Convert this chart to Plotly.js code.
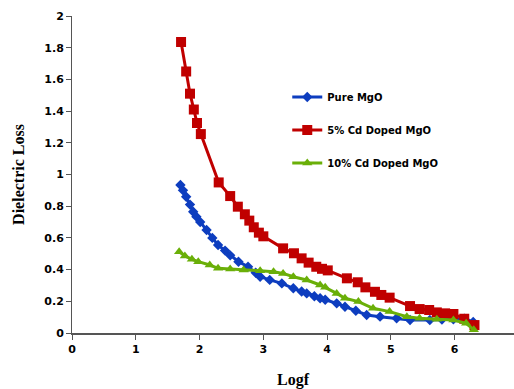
<!DOCTYPE html>
<html>
<head>
<meta charset="utf-8">
<script src="https://cdn.plot.ly/plotly-3.0.1.min.js"></script>
<style>html,body{margin:0;padding:0;background:#fff;}#chart{width:514px;height:389px;}</style>
</head>
<body>
<div id="chart"></div>
<script>
const seriesNames = ["Pure MgO", "5% Cd Doped MgO", "10% Cd Doped MgO"];

const pureX = [1.70,1.74,1.79,1.85,1.90,1.95,2.01,2.11,2.20,2.29,2.40,2.48,2.61,2.76,2.88,2.95,3.10,3.29,3.47,3.60,3.68,3.80,3.89,3.97,4.15,4.28,4.45,4.62,4.83,5.09,5.30,5.61,5.80,5.98,6.15,6.29];
const pureY = [0.934,0.90,0.86,0.81,0.765,0.734,0.70,0.65,0.60,0.555,0.52,0.49,0.45,0.418,0.38,0.355,0.335,0.313,0.282,0.262,0.25,0.232,0.219,0.21,0.187,0.166,0.14,0.114,0.103,0.093,0.082,0.082,0.085,0.086,0.09,0.07];

const cd5X = [1.71,1.79,1.85,1.91,1.96,2.02,2.30,2.48,2.60,2.71,2.78,2.85,2.93,3.00,3.31,3.48,3.60,3.71,3.83,3.92,4.01,4.31,4.48,4.60,4.75,4.85,4.98,5.30,5.45,5.60,5.72,5.85,5.98,6.15,6.31];
const cd5Y = [1.836,1.65,1.51,1.41,1.325,1.255,0.95,0.864,0.797,0.749,0.709,0.667,0.633,0.61,0.534,0.503,0.471,0.444,0.418,0.405,0.395,0.345,0.32,0.288,0.26,0.24,0.223,0.17,0.151,0.145,0.13,0.124,0.12,0.09,0.05];

const cd10X = [1.68,1.77,1.88,1.98,2.16,2.29,2.48,2.69,2.95,3.16,3.31,3.47,3.68,3.89,3.97,4.15,4.28,4.49,4.72,4.98,5.25,5.45,5.72,5.98,6.18,6.30];
const cd10Y = [0.513,0.486,0.465,0.45,0.429,0.408,0.404,0.397,0.393,0.387,0.376,0.355,0.334,0.303,0.288,0.25,0.219,0.198,0.156,0.135,0.103,0.093,0.086,0.082,0.061,0.02];

const xTicks = [0,1,2,3,4,5,6];
const yTicks = [0,0.2,0.4,0.6,0.8,1,1.2,1.4,1.6,1.8,2];

const traces = [
  {x: pureX, y: pureY, name: seriesNames[0], legendgroup: "a", mode: "lines+markers",
   line: {color: "#0D3DBF", width: 3}, marker: {symbol: "diamond", size: 8, color: "#0D3DBF"}},
  {x: cd5X, y: cd5Y, name: seriesNames[1], legendgroup: "b", mode: "lines+markers",
   line: {color: "#C00000", width: 3}, marker: {symbol: "square", size: 10, color: "#C00000"}},
  {x: cd10X, y: cd10Y, name: seriesNames[2], legendgroup: "c", mode: "lines+markers",
   line: {color: "#6AAF08", width: 3}, marker: {symbol: "triangle-up", size: 9, color: "#6AAF08"}}
];

const tickFont = {family: "DejaVu Sans", size: 11, color: "#000", weight: "bold"};

const layout = {
  width: 514, height: 389,
  margin: {l: 72, r: 0, t: 16, b: 56},
  paper_bgcolor: "#fff", plot_bgcolor: "#fff",
  showlegend: true,
  legend: {x: 0.487, y: 0.79, xanchor: "left", yanchor: "top", tracegroupgap: 14,
    font: {family: "DejaVu Sans", size: 10, color: "#000", weight: "bold"}, bgcolor: "rgba(0,0,0,0)"},
  xaxis: {range: [0, 6.93], tickvals: xTicks, ticktext: xTicks.map(String),
    showgrid: false, zeroline: false, showline: true, linecolor: "#555", linewidth: 2,
    ticks: "outside", ticklen: 5, tickcolor: "#555", tickwidth: 1, tickfont: tickFont,
    title: {text: "Logf", font: {family: "Liberation Serif", size: 16, color: "#000", weight: "bold"}, standoff: 20}},
  yaxis: {range: [0, 2], tickvals: yTicks, ticktext: yTicks.map(String),
    showgrid: false, zeroline: false, showline: true, linecolor: "#555", linewidth: 1,
    ticks: "outside", ticklen: 5, tickcolor: "#555", tickwidth: 1, tickfont: tickFont,
    title: {text: "Dielectric Loss", font: {family: "Liberation Serif", size: 16, color: "#000", weight: "bold"}, standoff: 15}}
};

Plotly.newPlot("chart", traces, layout, {displayModeBar: false, staticPlot: true});
</script>
</body>
</html>
